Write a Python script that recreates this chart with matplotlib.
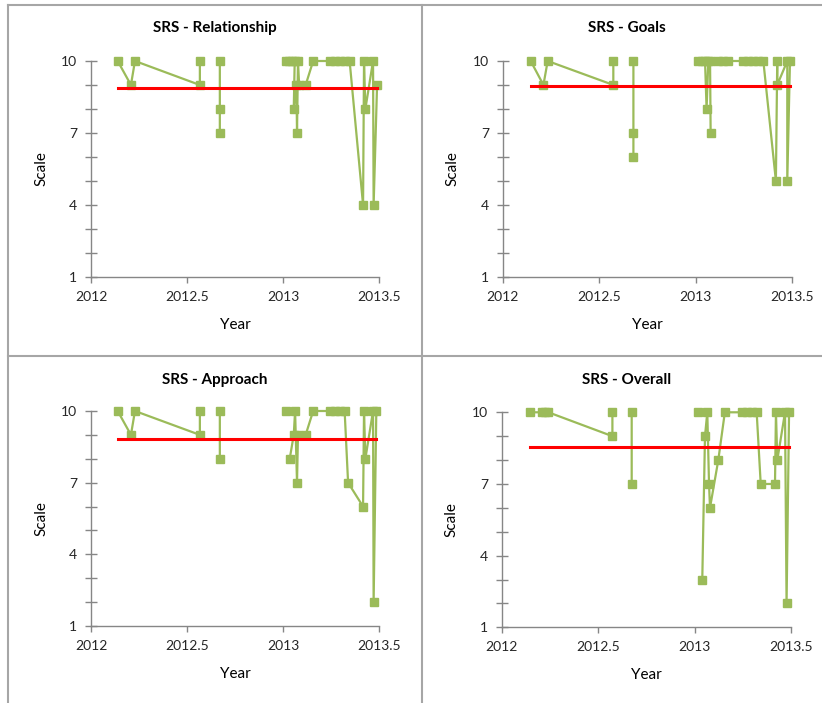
import numpy as np
import matplotlib
matplotlib.use("Agg")
from matplotlib import pyplot as plt
from matplotlib.lines import Line2D

plt.rcParams['font.family'] = ['Lato', 'DejaVu Sans']

nan = np.nan

# SRS - Relationship
rel_year = [2012.139, 2012.208, 2012.229, 2012.567, 2012.567, nan,
            2012.671, 2012.671, 2012.671, nan,
            2013.014, 2013.032, 2013.049, 2013.061, 2013.056, 2013.070, 2013.073,
            2013.078, 2013.084, 2013.118, 2013.157, 2013.243, 2013.269, 2013.295,
            2013.321, 2013.347, 2013.417, 2013.422, 2013.429, 2013.469, 2013.472, 2013.490]
rel_score = [10, 9, 10, 9, 10, nan,
             10, 8, 7, nan,
             10, 10, 10, 10, 8, 9, 7,
             10, 9, 9, 10, 10, 10, 10,
             10, 10, 4, 10, 8, 10, 4, 9]

# SRS - Goals
goal_year = [2012.145, 2012.211, 2012.233, 2012.573, 2012.573, nan,
             2012.677, 2012.677, 2012.677, nan,
             2013.013, 2013.031, 2013.048, 2013.056, 2013.065, 2013.074, 2013.077, nan,
             2013.117, 2013.143, 2013.169, 2013.246, 2013.272, 2013.298, 2013.324,
             2013.350, 2013.415, 2013.422, 2013.422, 2013.474, 2013.474, 2013.488]
goal_score = [10, 9, 10, 9, 10, nan,
              10, 7, 6, nan,
              10, 10, 10, 8, 10, 10, 7, nan,
              10, 10, 10, 10, 10, 10, 10,
              10, 5, 10, 9, 10, 5, 10]

# SRS - Approach
appr_year = [2012.139, 2012.208, 2012.229, 2012.567, 2012.567, nan,
             2012.671, 2012.671, nan,
             2013.018, nan,
             2013.035, 2013.056, 2013.063, 2013.073, 2013.078, 2013.118, 2013.157,
             2013.243, 2013.269, 2013.295, 2013.321, 2013.339, 2013.417, 2013.422,
             2013.429, 2013.469, 2013.472, 2013.486]
appr_score = [10, 9, 10, 9, 10, nan,
              10, 8, nan,
              10, nan,
              8, 9, 10, 7, 9, 9, 10,
              10, 10, 10, 10, 7, 6, 10,
              8, 10, 2, 10]

# SRS - Overall
over_year = [2012.147, 2012.207, 2012.225, 2012.242, 2012.574, 2012.574, nan,
             2012.674, 2012.674, nan,
             2013.020, nan,
             2013.040, 2013.054, 2013.066, 2013.075, 2013.080, 2013.123, 2013.157,
             2013.244, 2013.270, 2013.296, 2013.322, 2013.343, 2013.417, 2013.422,
             2013.429, 2013.469, 2013.477, 2013.490]
over_score = [10, 10, 10, 10, 9, 10, nan,
              10, 7, nan,
              10, nan,
              3, 9, 10, 7, 6, 8, 10,
              10, 10, 10, 10, 7, 7, 10,
              8, 10, 2, 10]

titles = ["SRS - Relationship", "SRS - Goals", "SRS - Approach", "SRS - Overall"]
averages = [8.89, 8.94, 8.84, 8.54]

W, H = 822, 703
fig = plt.figure(figsize=(W / 100, H / 100), dpi=100)

def px_axes(left, top, right, bottom):
    return fig.add_axes([left / W, 1 - bottom / H, (right - left) / W, (bottom - top) / H])

boxes = [
    # axes (left, top, right, bottom), title center x, title y, box top
    ((91, 61, 379, 277), 215, 28, 0),
    ((502.7, 61, 792.3, 276.7), 627, 28, 0),
    ((91, 411, 379, 626), 215, 380, 356),
    ((501.7, 412.3, 791, 627.3), 627, 380, 356),
]
data = [(rel_year, rel_score), (goal_year, goal_score),
        (appr_year, appr_score), (over_year, over_score)]

green = "#9BBB59"
axis_gray = "#868686"
text_col = "#262626"

for i, (box, tx, ty, btop) in enumerate(boxes):
    ax = px_axes(*box)
    yrs, sc = data[i]
    ax.plot(yrs, sc, color=green, lw=1.6, marker="s", ms=5.8,
            mec=green, mfc=green, clip_on=False, zorder=3)
    x0 = np.nanmin(yrs)
    x1 = np.nanmax(yrs)
    ax.plot([x0, x1], [averages[i]] * 2, color="#FF0000", lw=2.2, zorder=4, clip_on=False)

    ax.set_xlim(2012, 2013.5)
    ax.set_ylim(1, 10)
    ax.set_xticks([2012, 2012.5, 2013, 2013.5])
    ax.set_xticklabels(["2012", "2012.5", "2013", "2013.5"])
    ax.set_yticks(range(1, 11))
    ax.set_yticklabels([str(v) if v in (1, 4, 7, 10) else "" for v in range(1, 11)])
    ax.tick_params(axis="y", direction="inout", length=8, width=1, color=axis_gray,
                   labelsize=10, labelcolor=text_col, pad=6)
    ax.tick_params(axis="x", direction="out", length=4, width=1, color=axis_gray,
                   labelsize=10, labelcolor=text_col, pad=6)
    for s in ["top", "right"]:
        ax.spines[s].set_visible(False)
    for s in ["left", "bottom"]:
        ax.spines[s].set_color(axis_gray)
        ax.spines[s].set_linewidth(1)
    ax.set_facecolor("none")

    fig.text(tx / W, 1 - ty / H, titles[i], ha="center", va="center",
             fontsize=11, fontweight="bold", color="#000000")
    ax_left = box[0]
    mid_y = (box[1] + box[3]) / 2
    fig.text((ax_left - 50) / W, 1 - mid_y / H, "Scale", rotation=90,
             ha="center", va="center", fontsize=11, color="#000000")
    fig.text(((box[0] + box[2]) / 2) / W, 1 - (box[3] + 48) / H, "Year",
             ha="center", va="center", fontsize=11, color="#000000")

# panel borders
border = "#A6A6A6"
for (xa, ya, xb, yb) in [(8, 5, 822, 5), (8, 5, 8, 703), (422, 5, 422, 703), (8, 356, 822, 356)]:
    fig.add_artist(Line2D([xa / W, xb / W], [1 - ya / H, 1 - yb / H],
                          color=border, lw=1.5, transform=fig.transFigure))

fig.savefig("out.png", dpi=100)
